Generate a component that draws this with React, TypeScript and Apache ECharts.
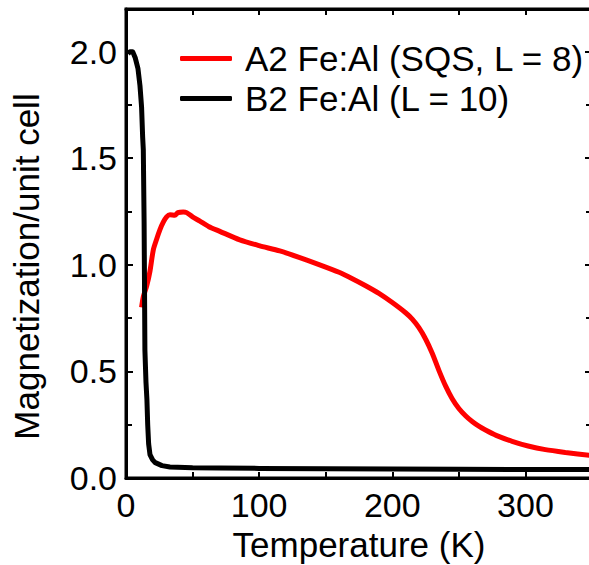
import React, { useEffect, useRef } from "react";
import * as echarts from "echarts";

const seriesNames = ["A2 Fe:Al (SQS, L = 8)", "B2 Fe:Al (L = 10)"];
const a2Data: [number, number][] = [
  [11.7, 0.8], [13, 0.85], [15.5, 0.9], [18, 0.97], [20.5, 1.07], [23, 1.12], [25.5, 1.165],
  [28, 1.2], [30.5, 1.225], [33, 1.235], [36.7, 1.232], [39, 1.245], [43, 1.248], [45.5, 1.245],
  [50, 1.225], [55.5, 1.205], [62, 1.18], [70.5, 1.157], [85.5, 1.117], [100, 1.09],
  [115.5, 1.065], [130, 1.035], [145.5, 1.0], [160, 0.965], [170, 0.935], [180, 0.902],
  [190, 0.866], [200, 0.823], [210, 0.775], [215, 0.745], [220, 0.705], [225, 0.652],
  [230, 0.585], [235, 0.505], [240, 0.432], [245, 0.372], [250, 0.326], [255, 0.292],
  [260, 0.265], [265, 0.243], [270, 0.225], [278, 0.2], [290, 0.172], [302, 0.15],
  [315, 0.133], [330, 0.12], [350, 0.105],
];
const b2Data: [number, number][] = [
  [1.5, 1.99], [3, 2.0], [5, 2.0], [7, 1.97], [9, 1.92], [10.5, 1.84], [11.7, 1.74],
  [12.5, 1.6], [13, 1.54], [13.6, 1.2], [14.2, 0.6], [15, 0.45], [15.7, 0.37], [16.3, 0.25],
  [17, 0.16], [18, 0.11], [20, 0.085], [22, 0.072], [27, 0.058], [33, 0.052], [50, 0.048],
  [70, 0.047], [100, 0.045], [150, 0.043], [200, 0.042], [250, 0.041], [300, 0.04], [350, 0.04],
];
const xRange = [0, 350];
const yRange = [0, 2.2];

export default function App() {
  const ref = useRef<HTMLDivElement>(null);
  useEffect(() => {
    if (!ref.current) return;
    const chart = echarts.init(ref.current, undefined, { renderer: "svg" });
    const font = "Liberation Sans, Arial, sans-serif";
    const axisLine = { show: true, onZero: false, lineStyle: { color: "#000", width: 3 } };
    const xCommon = {
      type: "value" as const,
      min: xRange[0],
      max: xRange[1],
      interval: 100,
      splitLine: { show: false },
      axisLine,
      axisTick: { show: true, inside: true, length: 6, lineStyle: { color: "#000", width: 2 } },
      minorTick: { show: true, splitNumber: 2, length: 6, lineStyle: { color: "#000", width: 2 } },
    };
    const yCommon = {
      type: "value" as const,
      min: yRange[0],
      max: yRange[1],
      interval: 0.5,
      splitLine: { show: false },
      axisLine,
      axisTick: { show: true, inside: true, length: 7, lineStyle: { color: "#000", width: 2 } },
      minorTick: { show: true, splitNumber: 2, length: 6, lineStyle: { color: "#000", width: 2 } },
    };
    chart.setOption({
      animation: false,
      backgroundColor: "#fff",
      textStyle: { fontFamily: font },
      grid: {
        left: 126,
        top: 9,
        right: 8,
        bottom: 87,
        outerBoundsMode: "none",
        containLabel: false,
        show: true,
        borderColor: "#000",
        borderWidth: 3,
        backgroundColor: "transparent",
      },
      legend: {
        orient: "vertical",
        left: 180,
        top: 41,
        padding: 0,
        itemWidth: 52,
        itemHeight: 5,
        itemGap: 5,
        icon: "roundRect",
        textStyle: { fontSize: 35, color: "#000", fontFamily: font, padding: [0, 0, 0, 8] },
        data: seriesNames,
      },
      xAxis: [
        {
          ...xCommon,
          position: "bottom",
          name: "Temperature (K)",
          nameLocation: "middle",
          nameGap: 47,
          nameTextStyle: { fontSize: 35, color: "#000", fontFamily: font },
          axisLabel: { fontSize: 34, color: "#000", margin: 10, fontFamily: font, showMaxLabel: false },
        },
        { ...xCommon, position: "top", axisLabel: { show: false } },
      ],
      yAxis: [
        {
          ...yCommon,
          position: "left",
          name: "Magnetization/unit cell",
          nameLocation: "middle",
          nameGap: 82,
          nameTextStyle: { fontSize: 35, color: "#000", fontFamily: font, padding: [0, 46, 0, 0] },
          axisLabel: {
            fontSize: 34,
            color: "#000",
            margin: 9,
            fontFamily: font,
            showMaxLabel: false,
            formatter: (v: number) => v.toFixed(1),
          },
        },
        { ...yCommon, position: "right", axisLabel: { show: false } },
      ],
      series: [
        {
          name: seriesNames[0],
          type: "line",
          data: a2Data,
          showSymbol: false,
          symbol: "none",
          smooth: 0.25,
          lineStyle: { color: "#ff0000", width: 5 },
          itemStyle: { color: "#ff0000" },
          z: 3,
        },
        {
          name: seriesNames[1],
          type: "line",
          data: b2Data,
          showSymbol: false,
          symbol: "none",
          smooth: false,
          lineStyle: { color: "#000", width: 5, join: "round" },
          itemStyle: { color: "#000" },
          z: 4,
        },
      ],
    });
    return () => chart.dispose();
  }, []);
  return (
    <div style={{ position: "fixed", left: 0, top: 0, width: 589, height: 565, overflow: "hidden", background: "#fff" }}>
      <div ref={ref} style={{ position: "absolute", left: 0, top: 0, width: 600, height: 565 }} />
    </div>
  );
}
